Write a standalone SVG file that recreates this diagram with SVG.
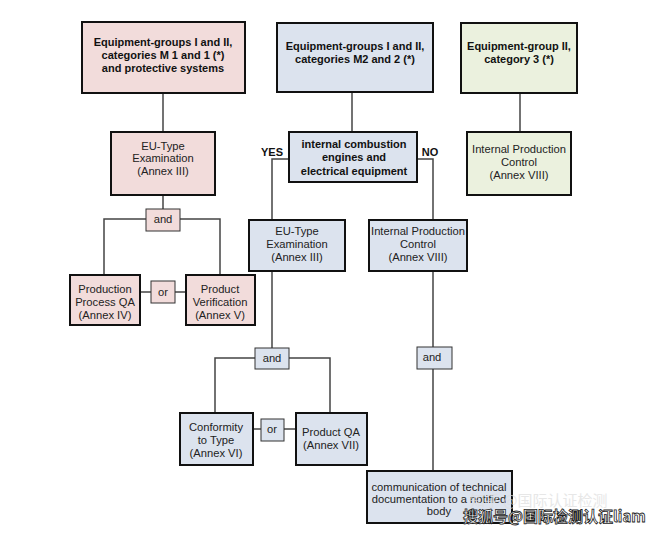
<svg xmlns="http://www.w3.org/2000/svg" width="662" height="533" viewBox="0 0 662 533">
<style>
.box{stroke:#111;stroke-width:2}
.sm{stroke:#333;stroke-width:1}
.pink{fill:#f2dcdb}
.blue{fill:#dce3ee}
.green{fill:#ebf1de}
.t{font-family:"Liberation Sans",Arial,sans-serif;font-size:11.2px;fill:#222;text-anchor:middle}
.b{font-family:"Liberation Sans",Arial,sans-serif;font-size:11px;font-weight:bold;fill:#111;text-anchor:middle}
.c{fill:none;stroke:#444;stroke-width:1.5}
</style>
<rect width="662" height="533" fill="#fff"/>
<g id="connectors">
<path class="c" d="M163,93 V132"/>
<path class="c" d="M163,195 V209"/>
<path class="c" d="M146,219 H104 V275 M180,219 H220 V275"/>
<path class="c" d="M140,292 H151 M175,292 H186"/>
<path class="c" d="M352,92 V132"/>
<path class="c" d="M520,93 V132"/>
<path class="c" d="M289,159 H272 V220"/>
<path class="c" d="M417,159 H433 V220"/>
<path class="c" d="M272,271 V348"/>
<path class="c" d="M255,358 H215 V413 M289,358 H330 V413"/>
<path class="c" d="M253,429 H261 M284,429 H296"/>
<path class="c" d="M433,271 V347 M433,369 V471"/>
</g>
<g id="n1"><rect class="box pink" x="82" y="22" width="163" height="71"/>
<text class="b" x="163" y="46">Equipment-groups I and II,</text>
<text class="b" x="163" y="59">categories M 1 and 1 (*)</text>
<text class="b" x="163" y="72">and protective systems</text></g>
<g id="n2"><rect class="box blue" x="277" y="23" width="156" height="69"/>
<text class="b" x="355" y="50">Equipment-groups I and II,</text>
<text class="b" x="355" y="63">categories M2 and 2 (*)</text></g>
<g id="n3"><rect class="box green" x="461" y="23" width="116" height="70"/>
<text class="b" x="519" y="50">Equipment-group II,</text>
<text class="b" x="519" y="63">category 3 (*)</text></g>
<g id="n4"><rect class="box green" x="467" y="132" width="104" height="63"/>
<text class="t" x="519" y="153">Internal Production</text>
<text class="t" x="519" y="166">Control</text>
<text class="t" x="519" y="179">(Annex VIII)</text></g>
<g id="n5"><rect class="box pink" x="111" y="132" width="104" height="63"/>
<text class="t" x="163" y="150">EU-Type</text>
<text class="t" x="163" y="162">Examination</text>
<text class="t" x="163" y="175">(Annex III)</text></g>
<g id="n6"><rect class="sm pink" x="146" y="209" width="34" height="22"/>
<text class="t" x="163" y="223">and</text></g>
<g id="n7"><rect class="box pink" x="70" y="275" width="70" height="50"/>
<text class="t" x="105" y="293">Production</text>
<text class="t" x="105" y="306">Process QA</text>
<text class="t" x="105" y="319">(Annex IV)</text></g>
<g id="n8"><rect class="sm pink" x="151" y="281" width="24" height="22"/>
<text class="t" x="163" y="296">or</text></g>
<g id="n9"><rect class="box pink" x="186" y="275" width="69" height="50"/>
<text class="t" x="220" y="293">Product</text>
<text class="t" x="220" y="306">Verification</text>
<text class="t" x="220" y="319">(Annex V)</text></g>
<g id="n10"><rect class="box blue" x="289" y="132" width="128" height="50"/>
<text class="b" x="354" y="148">internal combustion</text>
<text class="b" x="354" y="161">engines and</text>
<text class="b" x="354" y="175">electrical equipment</text></g>
<text class="b" x="272" y="156">YES</text>
<text class="b" x="430" y="156">NO</text>
<g id="n11"><rect class="box blue" x="249" y="220" width="96" height="51"/>
<text class="t" x="297" y="235">EU-Type</text>
<text class="t" x="297" y="248">Examination</text>
<text class="t" x="297" y="261">(Annex III)</text></g>
<g id="n12"><rect class="box blue" x="369" y="220" width="98" height="51"/>
<text class="t" x="418" y="235">Internal Production</text>
<text class="t" x="418" y="248">Control</text>
<text class="t" x="418" y="261">(Annex VIII)</text></g>
<g id="n13"><rect class="sm blue" x="255" y="348" width="34" height="21"/>
<text class="t" x="272" y="362">and</text></g>
<g id="n14"><rect class="box blue" x="180" y="413" width="73" height="52"/>
<text class="t" x="216" y="431">Conformity</text>
<text class="t" x="216" y="444">to Type</text>
<text class="t" x="216" y="457">(Annex VI)</text></g>
<g id="n15"><rect class="sm blue" x="261" y="419" width="23" height="22"/>
<text class="t" x="272" y="433">or</text></g>
<g id="n16"><rect class="box blue" x="296" y="413" width="71" height="52"/>
<text class="t" x="331" y="436">Product QA</text>
<text class="t" x="331" y="449">(Annex VII)</text></g>
<g id="n17"><rect class="sm blue" x="417" y="347" width="35" height="22"/>
<text class="t" x="432" y="361">and</text></g>
<g id="n18"><rect class="box blue" x="367" y="471" width="145" height="52"/>
<text class="t" x="439" y="491">communication of technical</text>
<text class="t" x="439" y="503">documentation to a notified</text>
<text class="t" x="439" y="515">body</text></g>
<text x="470" y="506" font-family="'Noto Sans CJK SC',sans-serif" font-size="15" fill="#ddd" opacity="0.7">知乎 @国际认证检测</text>
<text x="463" y="522" font-family="'Noto Sans CJK SC',sans-serif" font-size="15" font-weight="bold" fill="#fff" stroke="#222" stroke-width="0.8">搜狐号@国际检测认证liam</text>
</svg>
